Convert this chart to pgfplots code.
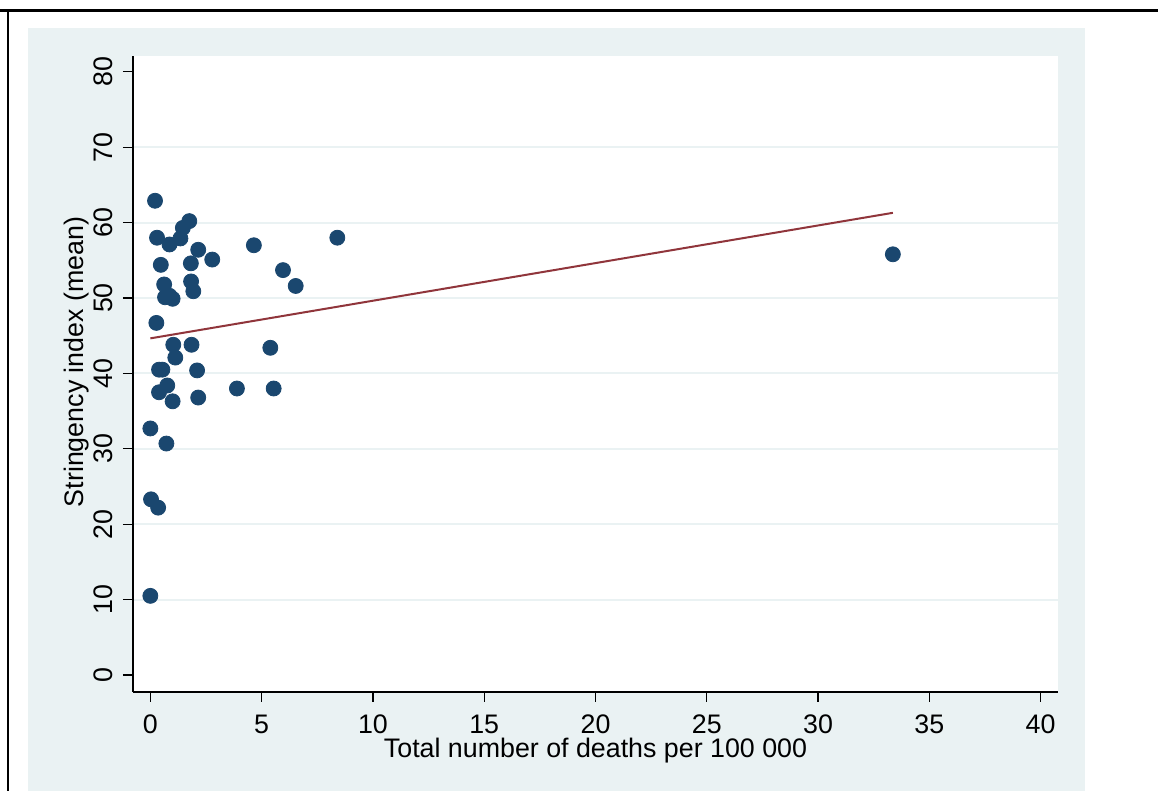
\documentclass[border=0pt]{standalone}
\usepackage{pgfplots}
\pgfplotsset{compat=1.18}
\usepackage{fontspec}
\setmainfont{Liberation Sans}
\definecolor{bgc}{HTML}{EAF2F3}
\definecolor{gridc}{HTML}{EAF2F3}
\definecolor{navy}{HTML}{1A476F}
\definecolor{maroon}{HTML}{90353B}
\begin{document}
\begin{tikzpicture}[x=0.5pt,y=0.5pt]
\useasboundingbox (0,0) rectangle (1158,791);
\fill[bgc] (28,0) rectangle (1085,763);
\draw[line width=1.5pt] (0,780) -- (1158,780);
\draw[line width=1pt] (8,0) -- (8,780.75);
\begin{axis}[
  at={(66.5pt,49.5pt)}, anchor=south west,
  scale only axis, width=462.5pt, height=318pt,
  xmin=-0.78, xmax=40.78, ymin=-2.25, ymax=82.1,
  axis x line*=bottom, axis y line*=left,
  axis line style={line width=0.6pt, black},
  axis background/.style={fill=white},
  xtick={0,5,...,40}, ytick={0,10,...,80},
  minor ytick={10,20,...,70}, yminorgrids,
  minor grid style={gridc, line width=1pt},
  minor tick length=0pt,
  tick align=outside, major tick length=5pt,
  tick style={black, line width=0.6pt},
  /pgf/number format/assume math mode=true,
  tick label style={font=\fontsize{13.4}{16}\selectfont},
  label style={font=\fontsize{13.4}{16}\selectfont},
  xticklabel style={yshift=-3pt},
  yticklabel style={xshift=-1.5pt, rotate=90, anchor=south},
  xlabel={Total number of deaths per 100 000},
  ylabel={Stringency index (mean)},
  xlabel style={at={(axis description cs:0.5,0)}, anchor=base, yshift=-33pt},
  ylabel style={at={(axis description cs:-0.053,0.519)}, anchor=base},
  clip=false,
]
\addplot[only marks, mark=*, mark size=3.75pt, mark options={fill=navy, draw=navy}] coordinates {
(0.21,62.9) (0.30,58.0) (0.86,57.1) (1.35,57.9) (1.46,59.3) (1.75,60.2)
(2.15,56.4) (2.78,55.1) (0.47,54.4) (1.82,54.6) (1.83,52.2) (1.93,50.9)
(0.62,51.8) (0.66,50.1) (0.86,50.3) (1.00,49.9) (0.27,46.7) (4.65,57.0)
(5.96,53.7) (6.53,51.6) (8.40,58.0) (33.36,55.8) (1.03,43.8) (1.85,43.8)
(1.12,42.1) (5.39,43.4) (0.39,40.5) (0.54,40.5) (2.10,40.4) (0.76,38.4)
(0.39,37.5) (1.00,36.3) (2.15,36.8) (3.89,38.0) (5.54,38.0) (0.00,32.7)
(0.72,30.7) (0.03,23.3) (0.35,22.2) (0.00,10.5)
};
\addplot[maroon, line width=1pt] coordinates {(0,44.65) (33.36,61.3)};
\end{axis}
\end{tikzpicture}
\end{document}
